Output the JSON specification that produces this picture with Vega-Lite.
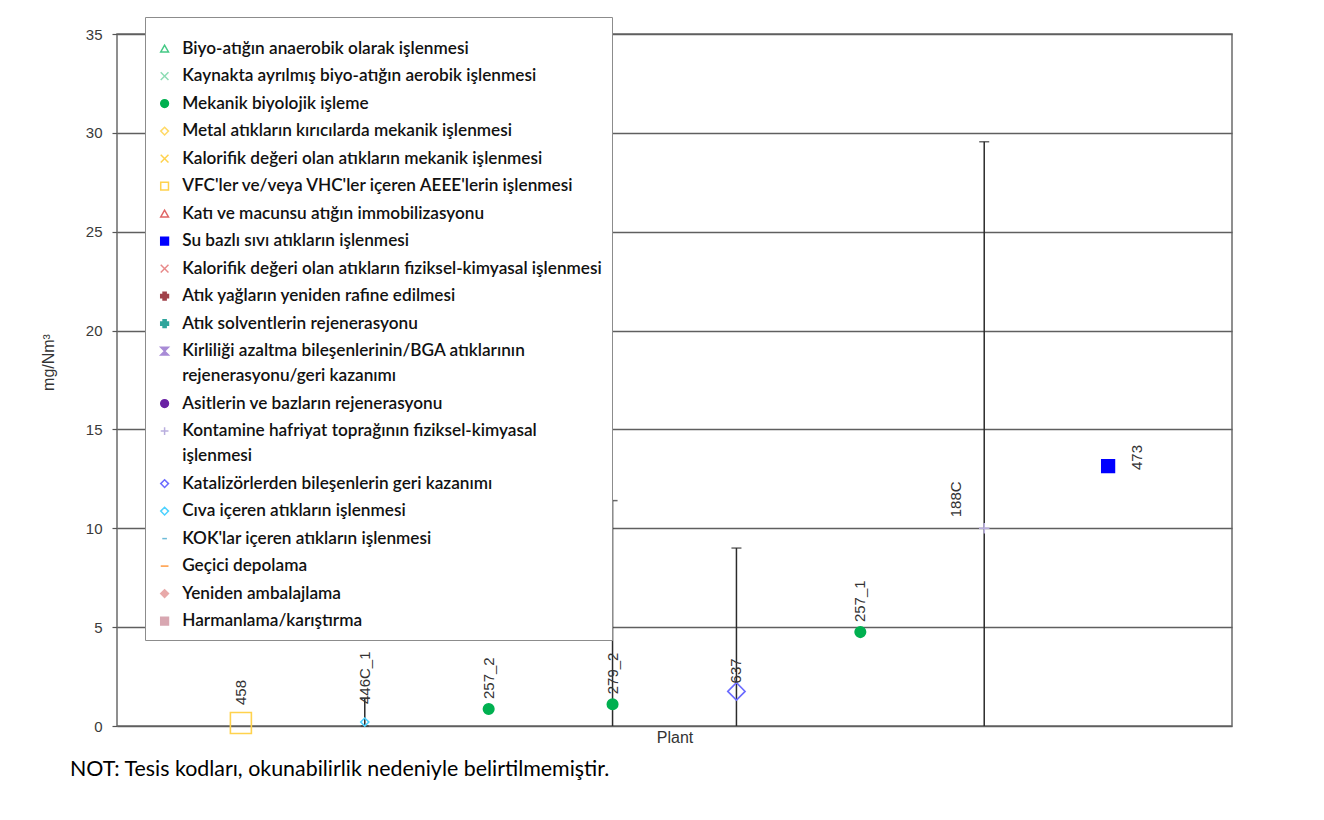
{
  "$schema": "https://vega.github.io/schema/vega-lite/v6.json",
  "width": 1115,
  "height": 692,
  "autosize": {"type": "none"},
  "padding": {"left": 117, "top": 34, "right": 92, "bottom": 94},
  "background": "white",
  "config": {
    "font": "Liberation Sans",
    "view": {"stroke": "#6b6b6b", "strokeWidth": 1.5},
    "axis": {"gridColor": "#5f5f5f", "gridWidth": 1.5, "gridOpacity": 1},
    "style": {"guide-label": {"lineHeight": 25}}
  },
  "title": {
    "text": "NOT: Tesis kodları, okunabilirlik nedeniyle belirtilmemiştir.",
    "orient": "bottom",
    "anchor": "start",
    "frame": "group",
    "dx": -47,
    "offset": 14,
    "font": "Lato",
    "fontSize": 21.4,
    "fontWeight": "normal",
    "color": "#000000"
  },
  "data": {
    "values": [
      {"plant": "458", "category": "VFC'ler ve/veya VHC'ler içeren AEEE'lerin işlenmesi", "value": 0.15, "low": null, "high": null},
      {"plant": "446C_1", "category": "Cıva içeren atıkların işlenmesi", "value": 0.2, "low": 0, "high": 1.4},
      {"plant": "257_2", "category": "Mekanik biyolojik işleme", "value": 0.86, "low": null, "high": null},
      {"plant": "279_2", "category": "Mekanik biyolojik işleme", "value": 1.1, "low": 0, "high": 11.4},
      {"plant": "637", "category": "Katalizörlerden bileşenlerin geri kazanımı", "value": 1.75, "low": 0, "high": 9.0},
      {"plant": "257_1", "category": "Mekanik biyolojik işleme", "value": 4.75, "low": null, "high": null},
      {"plant": "188C", "category": "Kontamine hafriyat toprağının fiziksel-kimyasal işlenmesi", "value": 10.0, "low": 0, "high": 29.55},
      {"plant": "473", "category": "Su bazlı sıvı atıkların işlenmesi", "value": 13.15, "low": null, "high": null}
    ]
  },
  "encoding": {
    "x": {
      "field": "plant",
      "type": "nominal",
      "sort": ["458", "446C_1", "257_2", "279_2", "637", "257_1", "188C", "473"],
      "scale": {"type": "point", "padding": 1},
      "axis": {"title": "Plant", "labels": false, "ticks": false, "domain": false, "grid": false, "titleFont": "Liberation Sans", "titleFontSize": 16, "titleFontWeight": "normal", "titleColor": "#333333", "titlePadding": 3}
    },
    "y": {
      "field": "value",
      "type": "quantitative",
      "scale": {"domain": [0, 35], "nice": false, "zero": true},
      "axis": {"title": "mg/Nm³", "values": [0, 5, 10, 15, 20, 25, 30, 35], "grid": true, "domain": false, "tickColor": "#555555", "tickSize": 5, "tickWidth": 1.2, "labelPadding": 10, "labelFont": "Liberation Sans", "labelFontSize": 15, "labelColor": "#3a3a3a", "titleFont": "Liberation Sans", "titleFontSize": 16, "titleFontWeight": "normal", "titleColor": "#333333", "titlePadding": 29, "titleY": 328}
    }
  },
  "layer": [
    {
      "mark": {"type": "rule", "color": "#2b2b2b", "strokeWidth": 1.5, "clip": true},
      "transform": [{"filter": "datum.high != null"}],
      "encoding": {
        "y": {"field": "low", "type": "quantitative"},
        "y2": {"field": "high"}
      }
    },
    {
      "mark": {"type": "tick", "orient": "horizontal", "color": "#2b2b2b", "thickness": 1.5, "size": 10},
      "transform": [{"filter": "datum.high != null"}],
      "encoding": {
        "y": {"field": "high", "type": "quantitative"}
      }
    },
    {
      "mark": {"type": "tick", "orient": "horizontal", "color": "#2b2b2b", "thickness": 1.5, "size": 8},
      "transform": [{"filter": "datum.plant == '446C_1'"}],
      "encoding": {
        "y": {"field": "low", "type": "quantitative"}
      }
    },
    {
      "encoding": {
        "shape": {
          "field": "category",
          "type": "nominal",
          "scale": {
            "domain": [
              "Biyo-atığın anaerobik olarak işlenmesi",
              "Kaynakta ayrılmış biyo-atığın aerobik işlenmesi",
              "Mekanik biyolojik işleme",
              "Metal atıkların kırıcılarda mekanik işlenmesi",
              "Kalorifik değeri olan atıkların mekanik işlenmesi",
              "VFC'ler ve/veya VHC'ler içeren AEEE'lerin işlenmesi",
              "Katı ve macunsu atığın immobilizasyonu",
              "Su bazlı sıvı atıkların işlenmesi",
              "Kalorifik değeri olan atıkların fiziksel-kimyasal işlenmesi",
              "Atık yağların yeniden rafine edilmesi",
              "Atık solventlerin rejenerasyonu",
              "Kirliliği azaltma bileşenlerinin/BGA atıklarının rejenerasyonu/geri kazanımı",
              "Asitlerin ve bazların rejenerasyonu",
              "Kontamine hafriyat toprağının fiziksel-kimyasal işlenmesi",
              "Katalizörlerden bileşenlerin geri kazanımı",
              "Cıva içeren atıkların işlenmesi",
              "KOK'lar içeren atıkların işlenmesi",
              "Geçici depolama",
              "Yeniden ambalajlama",
              "Harmanlama/karıştırma"
            ],
            "range": [
              "triangle-up",
              "M-1,-1L1,1M1,-1L-1,1",
              "circle",
              "diamond",
              "M-1,-1L1,1M1,-1L-1,1",
              "square",
              "triangle-up",
              "square",
              "M-1,-1L1,1M1,-1L-1,1",
              "cross",
              "cross",
              "M-1,-1L1,-1L-1,1L1,1Z",
              "circle",
              "M-1,0L1,0M0,-1L0,1",
              "diamond",
              "diamond",
              "M-0.6,0L0.6,0",
              "M-1,0L1,0",
              "diamond",
              "square"
            ]
          },
          "legend": {
            "orient": "none",
            "legendX": 28,
            "legendY": -17,
            "title": " ",
            "titleFontSize": 4,
            "titlePadding": 9,
            "padding": 10,
            "fillColor": "white",
            "strokeColor": "#8c8c8c",
            "labelFont": "Lato",
            "labelFontSize": 17.2,
            "labelFontWeight": 600,
            "labelColor": "#111111",
            "labelLimit": 700,
            "labelOffset": 9,
            "symbolSize": 60,
            "symbolStrokeWidth": 1.5,
            "symbolOffset": 1,
            "rowPadding": 9.5,
            "labelExpr": "datum.label == 'Kirliliği azaltma bileşenlerinin/BGA atıklarının rejenerasyonu/geri kazanımı' ? ['Kirliliği azaltma bileşenlerinin/BGA atıklarının', 'rejenerasyonu/geri kazanımı'] : datum.label == 'Kontamine hafriyat toprağının fiziksel-kimyasal işlenmesi' ? ['Kontamine hafriyat toprağının fiziksel-kimyasal', 'işlenmesi'] : datum.label",
            "encode": {
              "legend": {"update": {"strokeWidth": {"value": 2}}},
              "labels": {"update": {"lineHeight": {"value": 25}}}
            }
          }
        },
        "fill": {
          "field": "category",
          "type": "nominal",
          "scale": {
            "domain": [
              "Biyo-atığın anaerobik olarak işlenmesi",
              "Kaynakta ayrılmış biyo-atığın aerobik işlenmesi",
              "Mekanik biyolojik işleme",
              "Metal atıkların kırıcılarda mekanik işlenmesi",
              "Kalorifik değeri olan atıkların mekanik işlenmesi",
              "VFC'ler ve/veya VHC'ler içeren AEEE'lerin işlenmesi",
              "Katı ve macunsu atığın immobilizasyonu",
              "Su bazlı sıvı atıkların işlenmesi",
              "Kalorifik değeri olan atıkların fiziksel-kimyasal işlenmesi",
              "Atık yağların yeniden rafine edilmesi",
              "Atık solventlerin rejenerasyonu",
              "Kirliliği azaltma bileşenlerinin/BGA atıklarının rejenerasyonu/geri kazanımı",
              "Asitlerin ve bazların rejenerasyonu",
              "Kontamine hafriyat toprağının fiziksel-kimyasal işlenmesi",
              "Katalizörlerden bileşenlerin geri kazanımı",
              "Cıva içeren atıkların işlenmesi",
              "KOK'lar içeren atıkların işlenmesi",
              "Geçici depolama",
              "Yeniden ambalajlama",
              "Harmanlama/karıştırma"
            ],
            "range": [
              "transparent", "transparent", "#00b050", "transparent", "transparent",
              "transparent", "transparent", "#0000ff", "transparent", "#a0414a",
              "#2fa59c", "#a88bd6", "#6a22a4", "transparent", "transparent",
              "transparent", "transparent", "transparent", "#e8a9a9", "#d8a7b1"
            ]
          }
        },
        "stroke": {
          "field": "category",
          "type": "nominal",
          "scale": {
            "domain": [
              "Biyo-atığın anaerobik olarak işlenmesi",
              "Kaynakta ayrılmış biyo-atığın aerobik işlenmesi",
              "Mekanik biyolojik işleme",
              "Metal atıkların kırıcılarda mekanik işlenmesi",
              "Kalorifik değeri olan atıkların mekanik işlenmesi",
              "VFC'ler ve/veya VHC'ler içeren AEEE'lerin işlenmesi",
              "Katı ve macunsu atığın immobilizasyonu",
              "Su bazlı sıvı atıkların işlenmesi",
              "Kalorifik değeri olan atıkların fiziksel-kimyasal işlenmesi",
              "Atık yağların yeniden rafine edilmesi",
              "Atık solventlerin rejenerasyonu",
              "Kirliliği azaltma bileşenlerinin/BGA atıklarının rejenerasyonu/geri kazanımı",
              "Asitlerin ve bazların rejenerasyonu",
              "Kontamine hafriyat toprağının fiziksel-kimyasal işlenmesi",
              "Katalizörlerden bileşenlerin geri kazanımı",
              "Cıva içeren atıkların işlenmesi",
              "KOK'lar içeren atıkların işlenmesi",
              "Geçici depolama",
              "Yeniden ambalajlama",
              "Harmanlama/karıştırma"
            ],
            "range": [
              "#44c985", "#8edcb4", "#00b050", "#ffd966", "#ffd24d",
              "#ffd24d", "#e06666", "#0000ff", "#e88a8a", "#a0414a",
              "#2fa59c", "#a88bd6", "#6a22a4", "#b9aede", "#6b6bff",
              "#4dd2ff", "#6dbbd8", "#ff9a40", "#e8a9a9", "#d8a7b1"
            ]
          }
        }
      },
      "layer": [
        {
          "mark": {"type": "point", "strokeWidth": 1.6, "opacity": 1, "size": 110},
          "transform": [{"filter": "indexof(['Mekanik biyolojik işleme','Kontamine hafriyat toprağının fiziksel-kimyasal işlenmesi'], datum.category) >= 0"}]
        },
        {
          "mark": {"type": "point", "strokeWidth": 1.6, "opacity": 1, "size": 440},
          "transform": [{"filter": "datum.plant == '458'"}]
        },
        {
          "mark": {"type": "point", "strokeWidth": 1.6, "opacity": 1, "size": 160},
          "transform": [{"filter": "datum.plant == '473'"}]
        },
        {
          "mark": {"type": "point", "strokeWidth": 1.6, "opacity": 1, "size": 300},
          "transform": [{"filter": "datum.plant == '637'"}]
        },
        {
          "mark": {"type": "point", "strokeWidth": 1.6, "opacity": 1, "size": 64},
          "transform": [{"filter": "datum.plant == '446C_1'"}]
        }
      ]
    },
    {
      "mark": {"type": "text", "angle": 270, "align": "left", "baseline": "middle", "dx": 10, "font": "Liberation Sans", "fontSize": 15, "color": "#333333"},
      "transform": [{"filter": "indexof(['257_2','279_2','257_1'], datum.plant) >= 0"}],
      "encoding": {"text": {"field": "plant"}}
    },
    {
      "mark": {"type": "text", "angle": 270, "align": "left", "baseline": "middle", "dx": 8, "font": "Liberation Sans", "fontSize": 15, "color": "#333333"},
      "transform": [{"filter": "datum.plant == '637'"}],
      "encoding": {"text": {"field": "plant"}}
    },
    {
      "mark": {"type": "text", "angle": 270, "align": "left", "baseline": "middle", "dx": 18, "font": "Liberation Sans", "fontSize": 15, "color": "#333333"},
      "transform": [{"filter": "indexof(['458','446C_1'], datum.plant) >= 0"}],
      "encoding": {"text": {"field": "plant"}}
    },
    {
      "mark": {"type": "text", "angle": 270, "align": "left", "baseline": "middle", "dx": 11, "dy": -28, "font": "Liberation Sans", "fontSize": 15, "color": "#333333"},
      "transform": [{"filter": "datum.plant == '188C'"}],
      "encoding": {"text": {"field": "plant"}}
    },
    {
      "mark": {"type": "text", "angle": 270, "align": "left", "baseline": "middle", "dx": -4, "dy": 29, "font": "Liberation Sans", "fontSize": 15, "color": "#333333"},
      "transform": [{"filter": "datum.plant == '473'"}],
      "encoding": {"text": {"field": "plant"}}
    }
  ]
}
